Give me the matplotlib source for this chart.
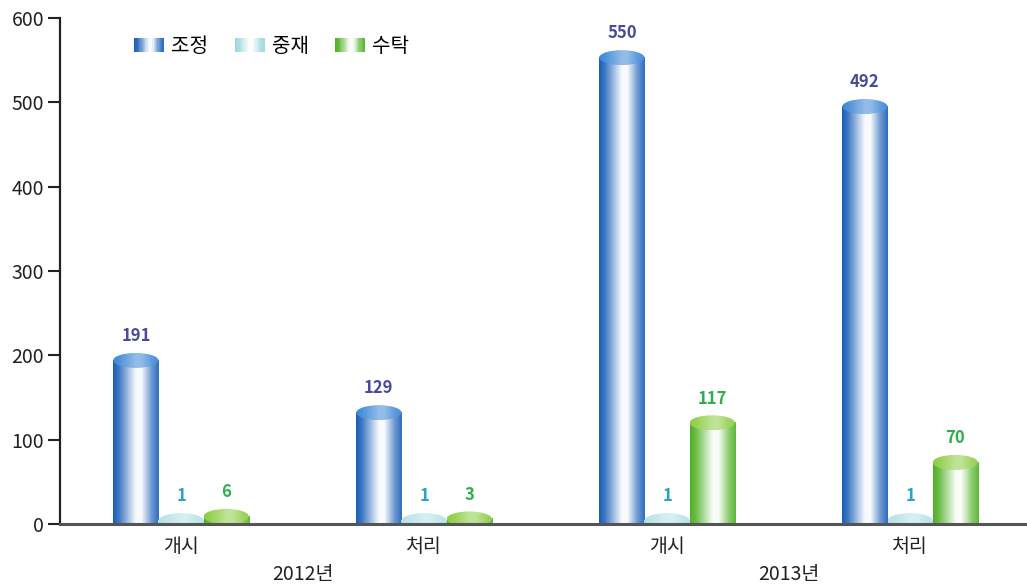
import numpy as np
import matplotlib.pyplot as plt
from matplotlib.patches import Ellipse, Rectangle
from matplotlib.legend_handler import HandlerBase
from matplotlib.colors import to_rgb

plt.rcParams['font.family'] = ['Noto Sans CJK KR', 'DejaVu Sans']

# ========== Data ==========
categories = ['개시', '처리', '개시', '처리']
years = ['2012년', '2013년']
series = ['조정', '중재', '수탁']
mediation = [191, 129, 550, 492]
arbitration = [1, 1, 1, 1]
trust = [6, 3, 117, 70]

values = [mediation, arbitration, trust]
body_colors = ['#1a5fb8', '#9dd5db', '#4fb126']
top_colors = ['#3f88d6', '#b5e2e7', '#8fcd45']
label_colors = ['#4a4a9c', '#2aa3c6', '#2fae50']


def gradient_row(color, n=64, light=1.0):
    # white highlight a bit right of centre, darker edges
    c = np.array(to_rgb(color))
    pos = np.linspace(0, 1, n)
    mix = np.interp(pos, [0, 0.12, 0.5, 0.62, 0.85, 1.0],
                    [0.0, 0.15, 0.97, 0.97, 0.35, 0.1]) * light
    row = c[None, :] * (1 - mix[:, None]) + mix[:, None]
    return row[None, :, :]


class CylHandler(HandlerBase):
    def __init__(self, color):
        super().__init__()
        self.color = color

    def create_artists(self, legend, orig_handle, xdescent, ydescent,
                       width, height, fontsize, trans):
        row = gradient_row(self.color, n=24)[0]
        arts = []
        sw = width / len(row)
        for i, c in enumerate(row):
            r = Rectangle((-xdescent + i * sw, -ydescent), sw * 1.6, height,
                          facecolor=c, edgecolor='none', linewidth=0, transform=trans)
            arts.append(r)
        return arts


fig = plt.figure(figsize=(10.27, 5.87), dpi=100)
ax = fig.add_axes([60 / 1027, 63 / 587, 967 / 1027, 506 / 587])

x = np.arange(len(categories))
bw = 0.186
px_per_unit = 506 / 600
eh = 15 / px_per_unit  # ellipse height in data units

for k, (vals, bc, tc, lc) in enumerate(zip(values, body_colors, top_colors, label_colors)):
    for xi, v in zip(x, vals):
        xc = xi + (k - 1) * bw
        x0, x1 = xc - bw / 2, xc + bw / 2
        top = v + 3
        ax.imshow(gradient_row(bc), extent=[x0, x1, 0, top], aspect='auto',
                  interpolation='bilinear', zorder=2)
        ell = Ellipse((xc, top), bw, eh, facecolor='none', edgecolor='none')
        ax.add_patch(ell)
        im = ax.imshow(gradient_row(tc, light=0.45), extent=[x0, x1, top - eh / 2, top + eh / 2],
                       aspect='auto', interpolation='bilinear', zorder=3)
        im.set_clip_path(ell)
        ax.annotate(str(v), (xc, top), xytext=(0, 11), textcoords='offset points',
                    ha='center', va='bottom', color=lc, fontsize=12, fontweight='bold')

ax.set_xlim(-0.498, 3.481)
ax.set_ylim(0, 600)
ax.set_yticks(range(0, 601, 100))
ax.set_xticks(x)
ax.set_xticklabels(categories, fontsize=14, color='#222222')
ax.tick_params(axis='x', length=0, pad=9)
ax.tick_params(axis='y', length=8.5, width=1.5, pad=3, labelsize=14,
               color='#222222', labelcolor='#222222')

for s in ['top', 'right']:
    ax.spines[s].set_visible(False)
ax.spines['left'].set_linewidth(1.6)
ax.spines['left'].set_color('#222222')
ax.spines['bottom'].set_linewidth(2.2)
ax.spines['bottom'].set_color('#555555')
ax.spines['bottom'].set_zorder(5)

for i, yr in enumerate(years):
    ax.text(2 * i + 0.5, -0.1, yr, transform=ax.get_xaxis_transform(),
            ha='center', va='center', fontsize=14, color='#222222')

handles = [Rectangle((0, 0), 1, 1) for _ in series]
ax.legend(handles, series, loc='upper left', bbox_to_anchor=(0.058, 1.0), ncol=3,
          frameon=False, fontsize=14.5, handlelength=1.45, handleheight=0.75,
          handletextpad=0.4, columnspacing=1.3,
          handler_map={h: CylHandler(c) for h, c in zip(handles, body_colors)})

plt.savefig('out.png', dpi=100)
